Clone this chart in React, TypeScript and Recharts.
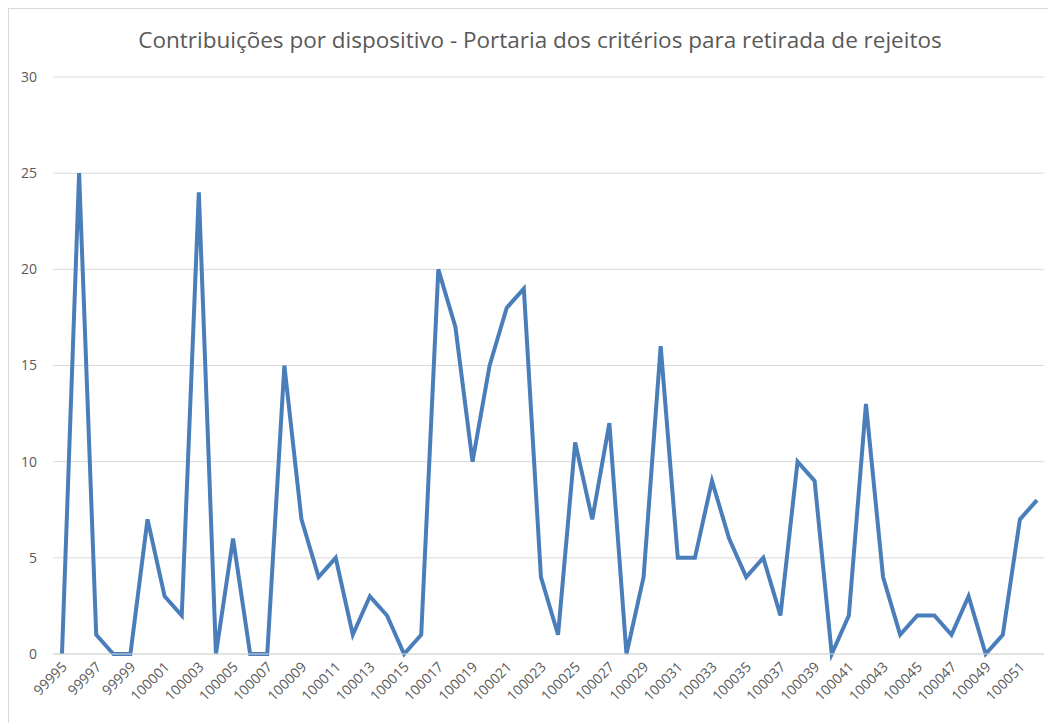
import { CartesianGrid, Line, LineChart, XAxis, YAxis } from "recharts";

const devices = [
  "99995", "99996", "99997", "99998", "99999", "100000", "100001", "100002",
  "100003", "100004", "100005", "100006", "100007", "100008", "100009", "100010",
  "100011", "100012", "100013", "100014", "100015", "100016", "100017", "100018",
  "100019", "100020", "100021", "100022", "100023", "100024", "100025", "100026",
  "100027", "100028", "100029", "100030", "100031", "100032", "100033", "100034",
  "100035", "100036", "100037", "100038", "100039", "100040", "100041", "100042",
  "100043", "100044", "100045", "100046", "100047", "100048", "100049", "100050",
  "100051", "100052",
];

const contributions = [
  0, 25, 1, 0, 0, 7, 3, 2, 24, 0, 6, 0, 0, 15, 7, 4, 5, 1, 3, 2, 0, 1, 20, 17, 10,
  15, 18, 19, 4, 1, 11, 7, 12, 0, 4, 16, 5, 5, 9, 6, 4, 5, 2, 10, 9, 0, 2, 13, 4,
  1, 2, 2, 1, 3, 0, 1, 7, 8,
];

const yTicks = [0, 5, 10, 15, 20, 25, 30];

const title =
  "Contribuições por dispositivo - Portaria dos critérios para retirada de rejeitos";

const data = devices.map((device, i) => ({ device, value: contributions[i] }));

const FONT = "'Open Sans', 'Noto Sans', sans-serif";
const TEXT = "#595959";

function XTick({ x, y, payload }: any) {
  return (
    <text
      x={x + 2}
      y={y}
      transform={`rotate(-45 ${x + 2} ${y})`}
      textAnchor="end"
      dominantBaseline="central"
      fill={TEXT}
      fontSize={14}
      fontFamily={FONT}
    >
      {payload.value}
    </text>
  );
}

export default function App() {
  return (
    <div
      style={{
        position: "relative",
        width: 1048,
        height: 715,
        borderLeft: "1px solid #d9d9d9",
        borderTop: "1px solid #d9d9d9",
        boxSizing: "border-box",
        background: "#fff",
        fontFamily: FONT,
      }}
    >
      <div
        style={{
          position: "absolute",
          top: 15,
          left: 0,
          width: 1062,
          textAlign: "center",
          fontSize: 22.5,
          color: TEXT,
        }}
      >
        {title}
      </div>
      <LineChart
        width={1047}
        height={714}
        data={data}
        margin={{ top: 68, right: 12, bottom: 0, left: 0 }}
      >
        <CartesianGrid stroke="#d9d9d9" vertical={false} />
        <XAxis
          dataKey="device"
          interval={1}
          axisLine={{ stroke: "#d9d9d9" }}
          tickLine={false}
          tickSize={0}
          tickMargin={10}
          height={69}
          padding={{ left: 9, right: 7 }}
          tick={<XTick />}
        />
        <YAxis
          domain={[0, 30]}
          ticks={yTicks}
          axisLine={false}
          tickLine={false}
          tickSize={0}
          tickMargin={16}
          width={44}
          tick={{ fill: TEXT, fontSize: 14, fontFamily: FONT }}
        />
        <Line
          type="linear"
          dataKey="value"
          stroke="#4A7EBB"
          strokeWidth={4}
          dot={false}
          isAnimationActive={false}
        />
      </LineChart>
    </div>
  );
}
